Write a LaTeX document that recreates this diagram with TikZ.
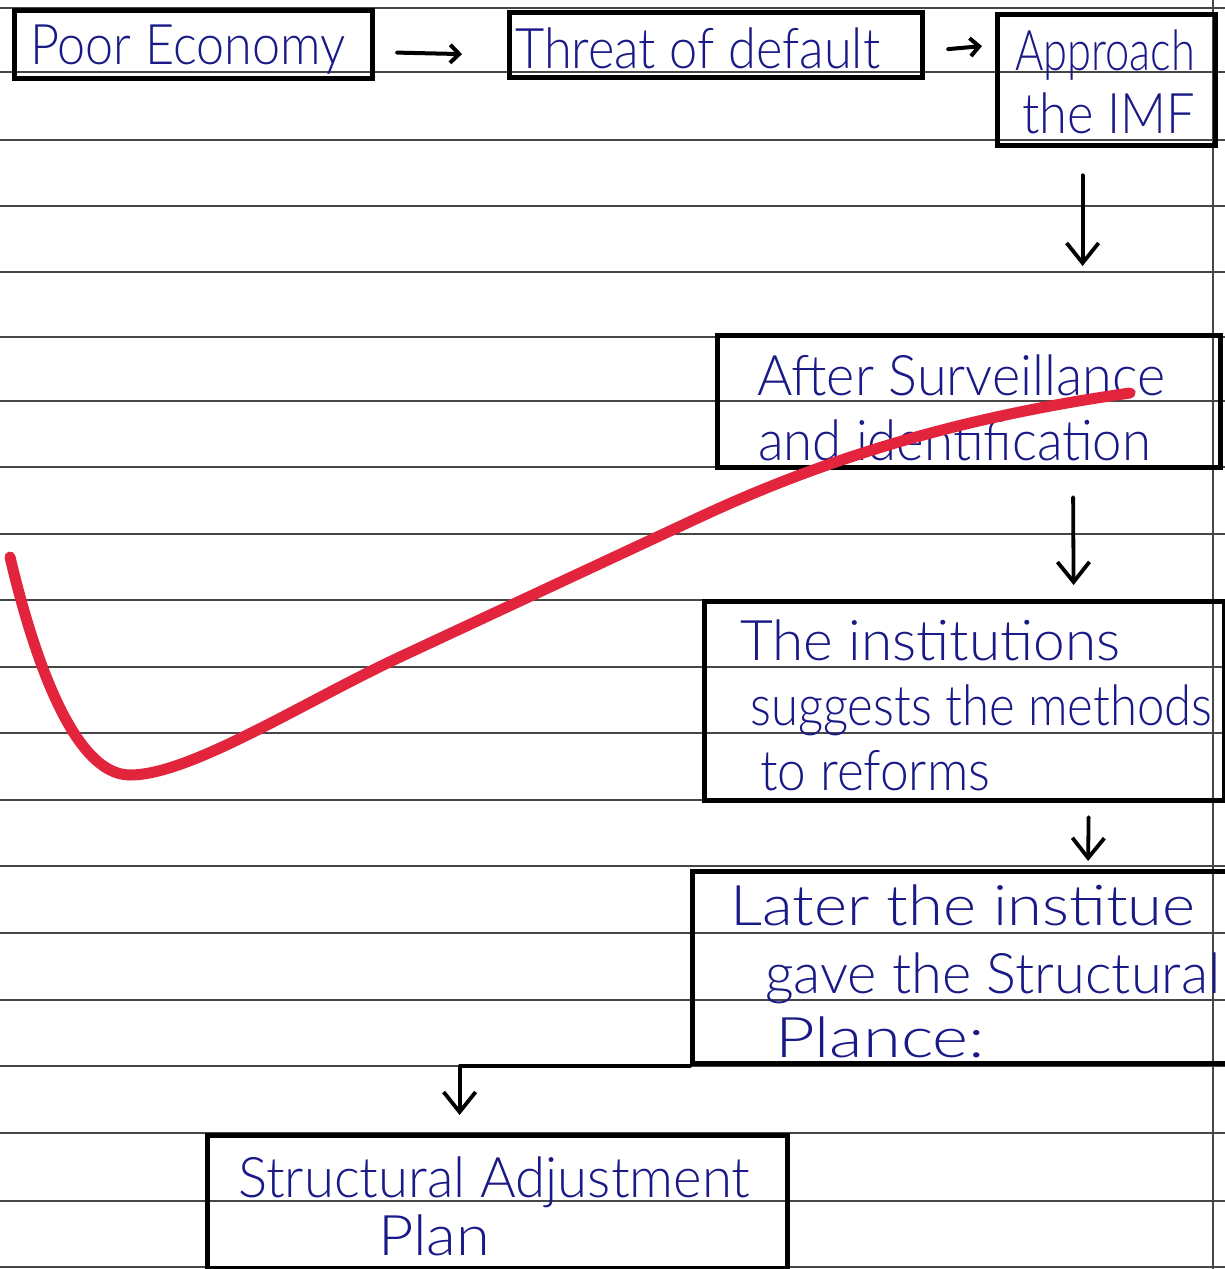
\documentclass[tikz,border=0pt]{standalone}
\usepackage{fontspec}
\usepackage{graphicx}
\setmainfont{Lato Light}
\usetikzlibrary{arrows.meta,calc}
\definecolor{ink}{RGB}{25,25,135}
\definecolor{ruling}{RGB}{70,70,70}
\definecolor{marker}{RGB}{226,36,60}
% stretch a line of writing to a given width, keeping its height
\newcommand{\hw}[2]{\resizebox{#1}{\height}{#2}}

\begin{document}
\begin{tikzpicture}[x=1pt,y=-1pt,
  box/.style={draw=black, line width=5.2pt, rectangle, inner sep=0pt, anchor=north west},
  hand/.style={text=ink, anchor=base west, inner sep=0pt, font=\fontsize{56}{62}\selectfont},
  flow/.style={draw=black, line width=3.8pt, line cap=round, line join=round,
    -{Straight Barb[length=20pt,width=32pt,line width=3.8pt]}},
  sideflow/.style={draw=black, line width=4pt, line cap=round,
    -{Straight Barb[length=9pt,width=18pt,line width=4pt]}},
  paperline/.style={draw=ruling, line width=1.8pt}]

\clip (0,0) rectangle (1225,1269);
\useasboundingbox (0,0) rectangle (1225,1269);
\fill[white] (0,0) rectangle (1225,1269);

% ruled notebook paper
\foreach \yy in {8,72,140,206,272,337,401,467,534,600,667,733,800,866,933,1000,1066,1133,1201,1267}
  \draw[paperline] (0,\yy) -- (1225,\yy);
\draw[paperline] (1213,0) -- (1213,1269);

% boxes
\node[box, minimum width=358pt, minimum height=68pt]  (poor)   at (12,8) {};
\node[box, minimum width=413pt, minimum height=65pt]  (threat) at (507,10) {};
\node[box, minimum width=218pt, minimum height=131pt] (imf)    at (995,12) {};
\node[box, minimum width=503pt, minimum height=132pt] (after)  at (715,333) {};
\node[box, minimum width=520pt, minimum height=199pt] (inst)   at (702,599) {};
\node[box, minimum width=545pt, minimum height=192pt] (later)  at (690,869) {};
\node[box, minimum width=580pt, minimum height=133pt] (sap)    at (205,1133) {};

% handwriting
\node[hand] (t1)  at (30,64)    {\hw{315pt}{Poor Economy}};
\node[hand] (t2)  at (515,68)   {\hw{365pt}{Threat of default}};
\node[hand] (t3a) at (1015,70)  {\hw{180pt}{Approach}};
\node[hand] (t3b) at (1022,133) {\hw{173pt}{the IMF}};
\node[hand] (t4a) at (757,395)  {\hw{408pt}{After Surveillance}};
\node[hand] (t4b) at (758,460)  {\hw{393pt}{and identification}};
\node[hand] (t5a) at (740,660)  {\hw{380pt}{The institutions}};
\node[hand] (t5b) at (750,725)  {\hw{462pt}{suggests the methods}};
\node[hand] (t5c) at (760,790)  {\hw{230pt}{to reforms}};
\node[hand] (t6a) at (730,925)  {\hw{465pt}{Later the institue}};
\node[hand] (t6b) at (765,993)  {\hw{455pt}{gave the Structural}};
\node[hand] (t6c) at (775,1057) {\hw{210pt}{Plance:}};
\node[hand] (t7a) at (238,1197) {\hw{512pt}{Structural Adjustment}};
\node[hand] (t7b) at (378,1255) {\hw{112pt}{Plan}};

% connectors
\draw[sideflow] ($(poor.east)+(22,8)$) -- ($(threat.west)+(-45,9)$);
\draw[sideflow] ($(threat.east)+(23,4)$) -- ($(threat.east -| imf.west)+(-13,1)$);
\draw[flow] ($(imf.south)+(-24,27)$) -- ($(imf.south |- after.north)+(-24,-67)$);
\draw[flow] ($(after.south)+(104,27)$) -- ($(inst.north)+(109,-14)$);
\draw[flow] ($(inst.south)+(124,14)$) -- ($(later.north)+(123,-8)$);
\draw[flow] (later.south west) -| ($(sap.north)+(-38,-18)$);

% red marker stroke
\draw[marker, line width=11pt, line cap=round]
  (10,557) .. controls (32,650) and (72,775) .. (130,775)
  .. controls (190,775) and (300,704) .. (400,657)
  -- (700,517)
  .. controls (850,447) and (990,413) .. (1130,393);
\end{tikzpicture}
\end{document}
